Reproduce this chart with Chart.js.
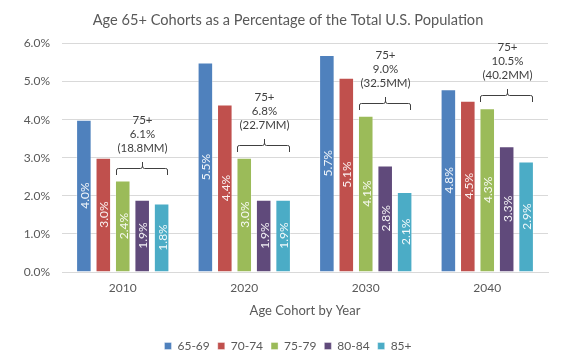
<!DOCTYPE html>
<html>
<head>
<meta charset="utf-8">
<script src="https://cdn.jsdelivr.net/npm/chart.js@4.4.1/dist/chart.umd.min.js"></script>
<style>
html,body{margin:0;padding:0;background:#fff;}
#wrap{width:586px;height:355px;position:relative;}
</style>
</head>
<body>
<div id="wrap"><canvas id="c"></canvas></div>
<script>
const years = ['2010', '2020', '2030', '2040'];
const cohorts = ['65-69', '70-74', '75-79', '80-84', '85+'];
const v6569 = [4.0, 5.5, 5.7, 4.8];
const v7074 = [3.0, 4.4, 5.1, 4.5];
const v7579 = [2.4, 3.0, 4.1, 4.3];
const v8084 = [1.9, 1.9, 2.8, 3.3];
const v85 = [1.8, 1.9, 2.1, 2.9];
const pct75 = ['6.1%', '6.8%', '9.0%', '10.5%'];
const pop75 = ['(18.8MM)', '(22.7MM)', '(32.5MM)', '(40.2MM)'];
const yTicks = [0, 1, 2, 3, 4, 5, 6];

const colors = ['#4F81BD', '#C0504D', '#9BBB59', '#604A7B', '#4BACC6'];
const series = [v6569, v7074, v7579, v8084, v85];
const FONT = 'Lato, "Open Sans", sans-serif';

const datasets = cohorts.map((name, i) => ({
  label: name,
  data: series[i],
  backgroundColor: colors[i],
  borderColor: 'rgba(255,255,255,0.35)',
  borderWidth: 1,
  categoryPercentage: 0.8,
  barPercentage: 0.8
}));

const labelPlugin = {
  id: 'barLabels',
  afterDatasetsDraw(chart) {
    const ctx = chart.ctx;
    ctx.save();
    ctx.font = '12px ' + FONT;
    ctx.fillStyle = 'rgba(255,255,255,0.92)';
    ctx.textAlign = 'center';
    ctx.textBaseline = 'middle';
    chart.data.datasets.forEach((ds, di) => {
      const meta = chart.getDatasetMeta(di);
      meta.data.forEach((bar, i) => {
        const cy = (bar.y + bar.base) / 2;
        ctx.save();
        ctx.translate(bar.x, cy);
        ctx.rotate(-Math.PI / 2);
        ctx.fillText(ds.data[i].toFixed(1) + '%', 0, 1);
        ctx.restore();
      });
    });
    ctx.restore();
  }
};

const bracketPlugin = {
  id: 'brackets',
  afterDatasetsDraw(chart) {
    const ctx = chart.ctx;
    const m2 = chart.getDatasetMeta(2), m3 = chart.getDatasetMeta(3), m4 = chart.getDatasetMeta(4);
    ctx.save();
    years.forEach((y, i) => {
      const b2 = m2.data[i], b4 = m4.data[i];
      const x1 = Math.round(b2.x - b2.width / 2 + 1);
      const x2 = Math.round(b4.x + b4.width / 2 - 1);
      const top = Math.min(b2.y, m3.data[i].y, b4.y);
      const yb = Math.round(top - 13);
      const xm = Math.round((x1 + x2) / 2) + 0.5;
      ctx.strokeStyle = '#404040';
      ctx.lineWidth = 1;
      ctx.beginPath();
      ctx.moveTo(x1 + 0.5, yb + 7);
      ctx.lineTo(x1 + 0.5, yb + 2);
      ctx.quadraticCurveTo(x1 + 0.5, yb + 0.5, x1 + 2.5, yb + 0.5);
      ctx.lineTo(xm - 2, yb + 0.5);
      ctx.quadraticCurveTo(xm, yb + 0.5, xm, yb - 2);
      ctx.lineTo(xm, yb - 6);
      ctx.moveTo(xm, yb - 2);
      ctx.quadraticCurveTo(xm, yb + 0.5, xm + 2, yb + 0.5);
      ctx.lineTo(x2 - 2.5, yb + 0.5);
      ctx.quadraticCurveTo(x2 - 0.5, yb + 0.5, x2 - 0.5, yb + 2);
      ctx.lineTo(x2 - 0.5, yb + 7);
      ctx.stroke();
      ctx.fillStyle = '#404040';
      ctx.font = '11.5px ' + FONT;
      ctx.textAlign = 'center';
      ctx.textBaseline = 'middle';
      const lines = ['75+', pct75[i], pop75[i]];
      const lastY = yb - 20;
      lines.forEach((t, k) => {
        ctx.fillText(t, xm, lastY - (2 - k) * 14);
      });
    });
    ctx.restore();
  }
};

new Chart(document.getElementById('c'), {
  type: 'bar',
  data: { labels: years, datasets },
  options: {
    responsive: true,
    maintainAspectRatio: false,
    animation: false,
    layout: { padding: { left: 0, right: 10, top: 0, bottom: -7 } },
    plugins: {
      title: {
        display: true,
        text: 'Age 65+ Cohorts as a Percentage of the Total U.S. Population',
        color: '#595959',
        font: { family: FONT, size: 14.6, weight: 'normal' },
        padding: { top: 12, bottom: 14 }
      },
      legend: {
        position: 'bottom',
        labels: {
          color: '#595959',
          font: { family: FONT, size: 12 },
          boxWidth: 7,
          boxHeight: 7,
          padding: 8
        }
      },
      tooltip: { enabled: false }
    },
    scales: {
      x: {
        grid: { display: false, drawTicks: false },
        border: { color: '#D9D9D9' },
        ticks: { color: '#595959', font: { family: FONT, size: 12 }, padding: 9 },
        title: {
          display: true,
          text: 'Age Cohort by Year',
          color: '#595959',
          font: { family: FONT, size: 13 },
          padding: { top: -1, bottom: 13 }
        }
      },
      y: {
        min: 0,
        max: 6,
        afterBuildTicks(scale) { scale.ticks = yTicks.map(v => ({ value: v })); },
        afterFit(scale) { scale.width = 62; },
        grid: { color: '#D9D9D9', drawTicks: false },
        border: { display: false },
        ticks: {
          color: '#595959',
          font: { family: FONT, size: 12 },
          padding: 12,
          callback: v => v.toFixed(1) + '%'
        }
      },
      yRight: {
        position: 'right',
        display: true,
        afterFit(scale) { scale.width = 28; },
        grid: { display: false, drawTicks: false },
        border: { display: false },
        ticks: { display: false }
      }
    }
  },
  plugins: [labelPlugin, bracketPlugin]
});
</script>
</body>
</html>
